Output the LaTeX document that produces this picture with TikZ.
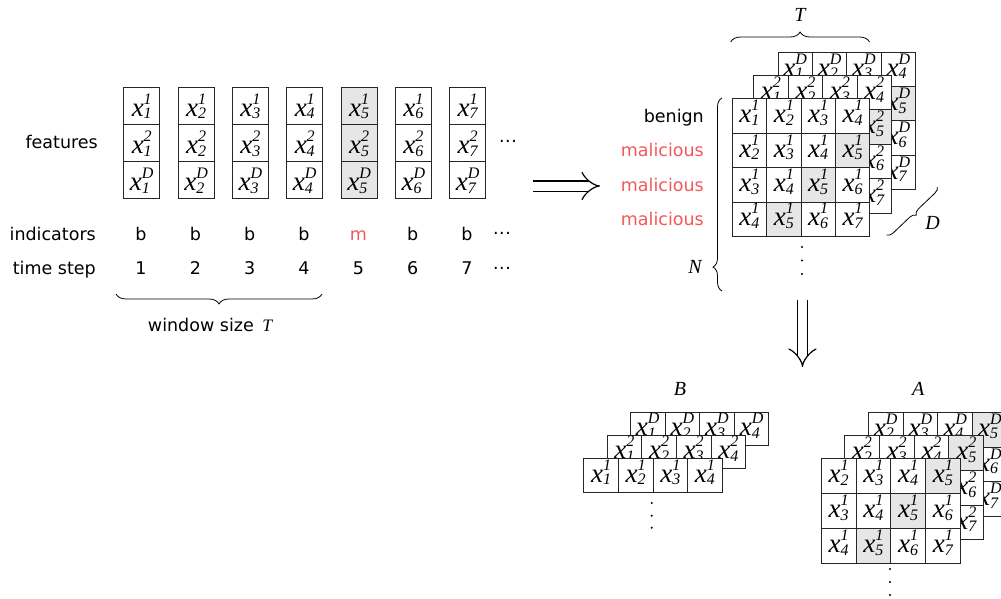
\documentclass[tikz,border=0pt]{standalone}
\usepackage{fontspec}
\setmainfont{DejaVu Sans}
\newfontfamily\tms{Liberation Serif}
\usetikzlibrary{arrows.meta,decorations.pathreplacing}
\definecolor{malred}{RGB}{242,88,88}
\definecolor{cellgray}{RGB}{230,230,230}

% feature entry x^{sup}_{sub}, scripts stacked on top of each other
\newcommand\sx[2]{{\tms\itshape\fontsize{27}{27}\selectfont x\fontsize{16}{16}\selectfont
  \setbox0\hbox{#1}\setbox2\hbox{#2}%
  \ifdim\wd0>\wd2 \dimen0=\wd0 \else\dimen0=\wd2 \fi
  \rlap{\raise12pt\box0}\rlap{\lower2.7pt\box2}\kern\dimen0}}
% row of three centred dots
\newcommand\hdots{\char"00B7\kern0.5pt\char"00B7\kern0.5pt\char"00B7}

\tikzset{
  lab/.style={font=\fontsize{17.5}{20}\selectfont, inner sep=0pt},
  ital/.style={font=\tms\itshape\fontsize{20}{20}\selectfont, inner sep=0pt},
  cell/.style 2 args={draw=black!85, line width=0.9pt, inner sep=0pt,
    anchor=north west, minimum width=#1pt, minimum height=#2pt, text depth=9pt},
  bracepath/.style={line width=0.8pt, decorate},
  implies/.style={line width=1.2pt, double distance=9pt, -{Implies}},
  dot/.style={fill=black},
}

\begin{document}
\begin{tikzpicture}[x=1pt, y=-1pt]
\useasboundingbox (0,0) rectangle (1001,599);

% ---------------- feature columns over time ----------------
\foreach \i in {1,...,7} {
  \ifnum\i=5 \def\fc{cellgray}\else\def\fc{white}\fi
  \foreach \s [count=\k] in {1,2,D}
    \node[cell={36}{37.2}, text depth=1.5pt, fill=\fc] (f\i\k)
      at ({123.3+54.33*(\i-1)}, {86.7+37.2*(\k-1)}) {\sx{\s}{\i}};
}
\node[lab, anchor=base east] (lfeat) at (98,149) {features};
\node[lab, anchor=base] (fdots) at (508,147.5) {\hdots};

\node[lab, anchor=base east] (lind) at (96,240) {indicators};
\node[lab, anchor=base east] (ltime) at (96,274.5) {time step};
\foreach \i/\c in {1/b,2/b,3/b,4/b,5/m,6/b,7/b} {
  \ifnum\i=5 \def\tc{malred}\else\def\tc{black}\fi
  \node[lab, anchor=base, text=\tc] (ind\i) at ({141+54.33*(\i-1)}, 240) {\c};
  \node[lab, anchor=base] (ts\i) at ({141+54.33*(\i-1)}, 274.5) {\i};
}
\node[lab, anchor=base] (idots) at (502,239.5) {\hdots};
\node[lab, anchor=base] (tdots) at (502,274.5) {\hdots};

% window brace
\coordinate (wb1) at (116,294);
\coordinate (wb2) at (322,294);
\draw[bracepath, decoration={brace, mirror, amplitude=10pt}] (wb1) -- (wb2);
\node[lab, anchor=base] (wlab) at (210,331.7) {window size \,{\tms\itshape T}};

% ---------------- arrows ----------------
\coordinate (ra1) at (533,186);
\coordinate (ra2) at (600,186);
\draw[implies] (ra1) -- (ra2);
\coordinate (da1) at (802.5,300);
\coordinate (da2) at (802.5,367);
\draw[implies] (da1) -- (da2);

% ---------------- windowed tensor (N x T x D) ----------------
\foreach \sup/\lx/\ly/\nm in {D/777.5/51.7/bk, 2/753.3/75/md, 1/731.7/98.3/fr}
  \foreach \r in {1,...,4}
    \foreach \c in {1,...,4} {
      \pgfmathtruncatemacro\idx{\r+\c-1}
      \ifnum\idx=5 \def\fc{cellgray}\else\def\fc{white}\fi
      \node[cell={34.4}{34.4}, fill=\fc] (w\nm\r\c)
        at ({\lx+34.4*(\c-1)}, {\ly+34.4*(\r-1)}) {\sx{\sup}{\idx}};
    }

\node[lab, anchor=base east] (lb1) at (704,122.5) {benign};
\node[lab, anchor=base east, text=malred] (lb2) at (704,156.9) {malicious};
\node[lab, anchor=base east, text=malred] (lb3) at (704,191.3) {malicious};
\node[lab, anchor=base east, text=malred] (lb4) at (704,225.7) {malicious};

\foreach \y in {247,260.5,274} \fill[dot] (802,\y) circle (1.1);

\coordinate (tb1) at (730.7,42);
\coordinate (tb2) at (869.5,42);
\draw[bracepath, decoration={brace, amplitude=10pt}] (tb1) -- (tb2);
\node[ital, anchor=base] (tlab) at (800,21.7) {T};

\coordinate (nb1) at (722,98);
\coordinate (nb2) at (722,291);
\draw[bracepath, decoration={brace, amplitude=9pt, aspect=0.124}] (nb2) -- (nb1);
\node[ital, anchor=base] (nlab) at (695,273.3) {N};

\coordinate (db1) at (886.7,235);
\coordinate (db2) at (937.3,186.7);
\draw[bracepath, decoration={brace, mirror, amplitude=6pt}] (db1) -- (db2);
\node[ital, anchor=base] (dlab) at (932.7,229) {D};

% ---------------- benign set B ----------------
\node[ital, anchor=base] (blab) at (680,395) {B};
\foreach \sup/\lx/\ly/\nm in {D/630/411.7/bk, 2/606.7/435/md, 1/583.3/458.3/fr}
  \foreach \c in {1,...,4}
    \node[cell={34.6}{33.4}, fill=white] (b\nm\c)
      at ({\lx+34.6*(\c-1)}, \ly) {\sx{\sup}{\c}};
\foreach \y in {503,515.7,527.7} \fill[dot] (651.7,\y) circle (1.1);

% ---------------- malicious set A ----------------
\node[ital, anchor=base] (alab) at (918.3,395) {A};
\foreach \sup/\lx/\ly/\nm in {D/867.7/411.7/bk, 2/844/435/md, 1/820.7/458.3/fr}
  \foreach \r in {1,...,3}
    \foreach \c in {1,...,4} {
      \pgfmathtruncatemacro\idx{\r+\c}
      \ifnum\idx=5 \def\fc{cellgray}\else\def\fc{white}\fi
      \node[cell={34.8}{34.8}, fill=\fc] (a\nm\r\c)
        at ({\lx+34.8*(\c-1)}, {\ly+34.8*(\r-1)}) {\sx{\sup}{\idx}};
    }
\foreach \y in {569,582,595} \fill[dot] (890,\y) circle (1.1);

\end{tikzpicture}
\end{document}
